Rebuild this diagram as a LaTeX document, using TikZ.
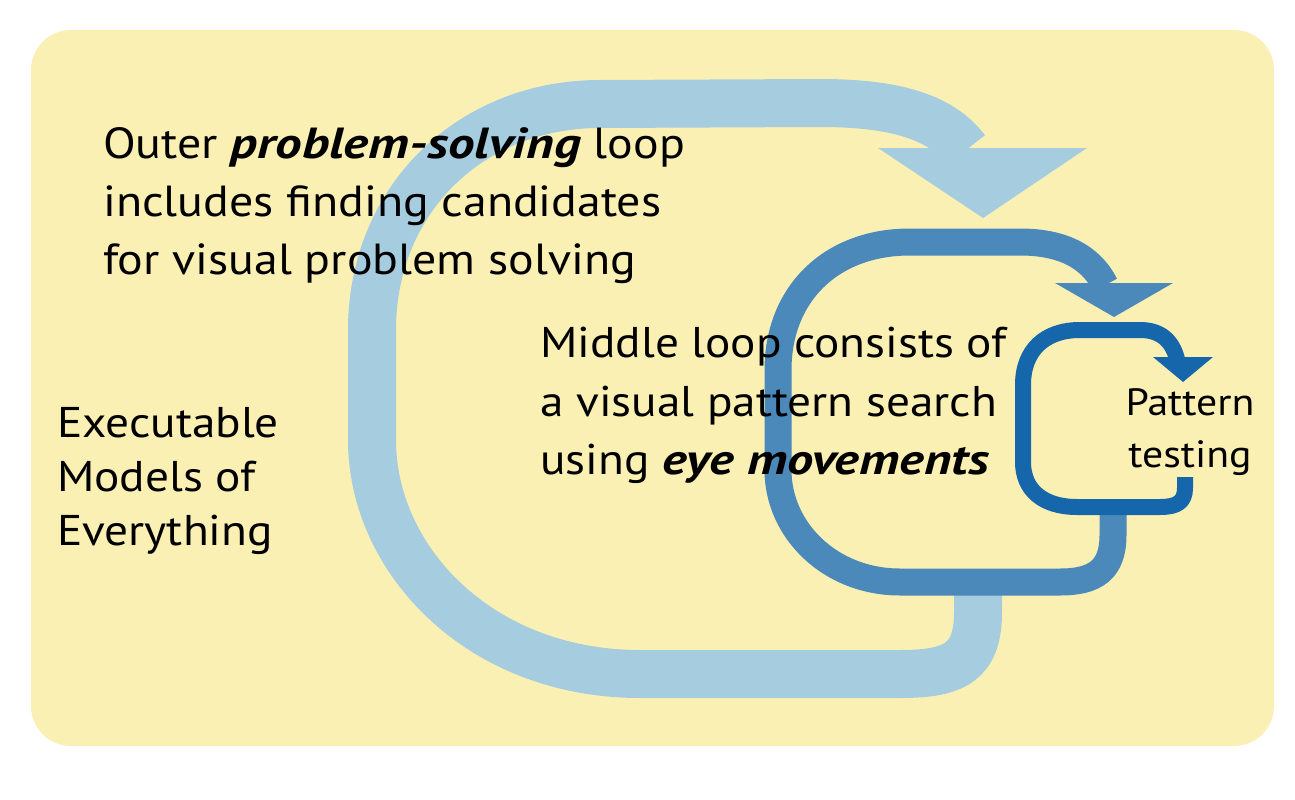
\documentclass[tikz,border=0pt]{standalone}
\usepackage{fontspec}
\setmainfont{PT Sans}[FakeStretch=1.1]
\newfontfamily\bifont{PT Sans Bold Italic}[FakeStretch=1.22]
\newcommand{\emphbi}[1]{{\bifont #1}}
\definecolor{bgyellow}{HTML}{FBF0B3}
\definecolor{outerblue}{HTML}{A6CCE0}
\definecolor{middleblue}{HTML}{4A89BA}
\definecolor{innerblue}{HTML}{1666AC}
\tikzset{
  loopline/.style={line cap=butt, line join=round},
  outerloop/.style={loopline, draw=outerblue, line width=48pt},
  middleloop/.style={loopline, draw=middleblue, line width=27pt},
  innerloop/.style={loopline, draw=innerblue, line width=16pt},
  txt/.style={inner sep=0pt, align=left, text=black, font=\fontsize{43.5}{58}\selectfont},
}
\begin{document}
\begin{tikzpicture}[x=1pt,y=-1pt]
\useasboundingbox (0,0) rectangle (1295,800);
\fill[bgyellow, rounded corners=40pt] (31,30) rectangle (1274,746);

% outer loop
\coordinate (otail) at (978,586);
\coordinate (obase) at (966,150);
\draw[outerloop] (otail) -- (978,612) .. controls (978,662) and (955,674) .. (900,674)
  -- (640,674) .. controls (480,674) and (372,560) .. (372,440)
  -- (372,330) .. controls (372,200) and (470,104) .. (600,104)
  -- (820,103) .. controls (890,103) and (940,115) .. (obase);
\fill[outerblue] (878,148) -- (1087,148) -- (983,218) -- cycle;

% middle loop
\coordinate (mtail) at (1113,506);
\coordinate (mbase) at (1105,285);
\draw[middleloop] (mtail) -- (1113,535) .. controls (1113,570) and (1095,582) .. (1060,582)
  -- (900,582) .. controls (830,582) and (778,530) .. (778,470)
  -- (778,370) .. controls (778,295) and (830,242) .. (910,242)
  -- (1020,242) .. controls (1060,242) and (1090,255) .. (mbase);
\fill[middleblue] (1055,283) -- (1173,283) -- (1114,317) -- cycle;

% inner loop
\coordinate (itail) at (1185,477);
\coordinate (ibase) at (1177,359);
\draw[innerloop] (itail) -- (1185,488) .. controls (1185,502) and (1177,507) .. (1160,507)
  -- (1077,507) .. controls (1043,507) and (1023,490) .. (1023,462)
  -- (1023,385) .. controls (1023,350) and (1045,330) .. (1080,330)
  -- (1140,330) .. controls (1160,330) and (1172,340) .. (ibase);
\fill[innerblue] (1153,357) -- (1213,357) -- (1183,382) -- cycle;

% texts
\node[txt, anchor=north west] (outertext) at (103,127)
  {Outer \emphbi{problem-solving} loop\\includes finding candidates\\for visual problem solving};
\node[txt, anchor=north west, font=\fontsize{43}{58.5}\selectfont] (middletext) at (540,327)
  {Middle loop consists of\\a visual pattern search\\using \emphbi{eye movements}};
\node[txt, anchor=north west, font=\fontsize{43}{54}\selectfont] (models) at (57,407)
  {Executable\\Models of\\Everything};
\node[txt, anchor=north, align=center, font=\fontsize{38}{52}\selectfont] (pattern) at (1190,388)
  {Pattern\\testing};
\end{tikzpicture}
\end{document}
